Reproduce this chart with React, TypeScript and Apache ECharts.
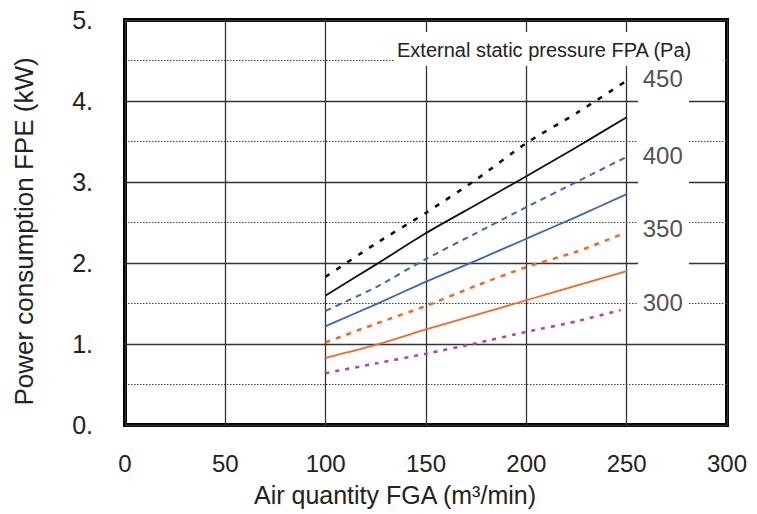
import React, { useEffect, useRef } from "react";
import * as echarts from "echarts";

const airQuantity = [100, 125, 150, 175, 200, 225, 250];
const airQuantityShort = [100, 125, 150, 175, 200, 225, 247];
const black450 = [1.83, 2.24, 2.62, 3.03, 3.48, 3.85, 4.25];
const black400 = [1.6, 1.98, 2.37, 2.72, 3.07, 3.43, 3.8];
const blueDashed = [1.41, 1.7, 2.05, 2.37, 2.69, 3.0, 3.31];
const blueSolid = [1.22, 1.49, 1.77, 2.03, 2.3, 2.57, 2.85];
const orangeDashed = [1.02, 1.25, 1.47, 1.72, 1.95, 2.14, 2.35];
const orangeSolid = [0.83, 0.99, 1.18, 1.36, 1.54, 1.72, 1.9];
const purpleDotted = [0.64, 0.76, 0.88, 1.01, 1.15, 1.28, 1.42];

const pressureLabels = ["450", "400", "350", "300"];
const pressureLabelY = [4.28, 3.33, 2.42, 1.51];
const pressureLabelX = 268;

const xTicks = { min: 0, max: 300, interval: 50 };
const yTicks = { min: 0, max: 5, interval: 1 };

const FONT = "'Liberation Sans', Arial, Helvetica, sans-serif";

function pairs(xs: number[], ys: number[]) {
  return xs.map((x, i) => [x, ys[i]]);
}

export default function App() {
  const ref = useRef<HTMLDivElement>(null);
  useEffect(() => {
    if (!ref.current) return;
    const chart = echarts.init(ref.current, undefined, { renderer: "svg" });
    const line = (name: string, xs: number[], ys: number[], color: string, type: any, width: number) => ({
      name,
      type: "line",
      data: pairs(xs, ys),
      smooth: 0.2,
      showSymbol: false,
      symbol: "none",
      lineStyle: { color, type, width, cap: "butt" },
      z: 3,
    });
    chart.setOption({
      animation: false,
      backgroundColor: "#fff",
      textStyle: { fontFamily: FONT },
      grid: {
        left: 125,
        right: 30,
        top: 20,
        bottom: 89,
        show: true,
        borderColor: "#000",
        borderWidth: 4,
        backgroundColor: "transparent",
      },
      xAxis: {
        type: "value",
        min: xTicks.min,
        max: xTicks.max,
        interval: xTicks.interval,
        axisLine: { show: false },
        axisTick: { show: false },
        axisLabel: { fontSize: 24, color: "#222", margin: 26, fontFamily: FONT },
        splitLine: { show: true, lineStyle: { color: "#333", width: 1.3 } },
        name: "Air quantity FGA (m³/min)",
        nameLocation: "middle",
        nameGap: 57,
        nameTextStyle: { fontSize: 25, color: "#222", fontFamily: FONT, padding: [0, 62, 0, 0] },
      },
      yAxis: {
        type: "value",
        min: yTicks.min,
        max: yTicks.max,
        interval: yTicks.interval,
        axisLine: { show: false },
        axisTick: { show: false },
        axisLabel: {
          fontSize: 25,
          color: "#222",
          margin: 32,
          fontFamily: FONT,
          formatter: (v: number) => `${v}.`,
        },
        splitLine: { show: true, lineStyle: { color: "#333", width: 1.3 } },
        minorTick: { show: false, splitNumber: 2 },
        minorSplitLine: { show: true, lineStyle: { color: "#444", width: 1, type: [1.5, 1.5] } },
        name: "Power consumption FPE (kW)",
        nameLocation: "middle",
        nameRotate: 90,
        nameGap: 88,
        nameTextStyle: { fontSize: 26, color: "#222", fontFamily: FONT, padding: [0, 18, 0, 0] },
      },
      graphic: [
        {
          type: "rect",
          z: 1,
          shape: { x: 395, y: 32, width: 328, height: 34 },
          style: { fill: "#fff" },
        },
        {
          type: "rect",
          z: 1,
          shape: { x: 638, y: 66, width: 51, height: 258 },
          style: { fill: "#fff" },
        },
        {
          type: "text",
          z: 5,
          x: 397,
          y: 50,
          style: {
            text: "External static pressure FPA (Pa)",
            font: `20px ${FONT}`,
            fill: "#222",
            verticalAlign: "middle",
          },
        },
      ],
      series: [
        line("450 dotted", airQuantity, black450, "#111", [5, 8], 2.6),
        line("400 solid", airQuantity, black400, "#111", "solid", 1.8),
        line("blue dashed", airQuantity, blueDashed, "#3a67b5", [6, 5], 2),
        line("blue solid", airQuantity, blueSolid, "#3a67b5", "solid", 1.8),
        line("orange dashed", airQuantityShort, orangeDashed, "#f26a2a", [5, 6], 2.6),
        line("orange solid", airQuantity, orangeSolid, "#f26a2a", "solid", 1.8),
        line("purple dotted", airQuantityShort, purpleDotted, "#a64ca6", [4, 6], 2.6),
        {
          name: "pressure labels",
          type: "scatter",
          symbolSize: 0,
          z: 5,
          data: pressureLabels.map((t, i) => ({ value: [pressureLabelX, pressureLabelY[i]], name: t })),
          label: {
            show: true,
            position: "inside",
            formatter: (p: any) => p.name,
            fontSize: 24,
            color: "#222",
            fontFamily: FONT,
          },
        },
      ],
    });
    return () => chart.dispose();
  }, []);
  return <div ref={ref} style={{ width: 757, height: 514, position: "absolute", left: 0, top: 0 }} />;
}
